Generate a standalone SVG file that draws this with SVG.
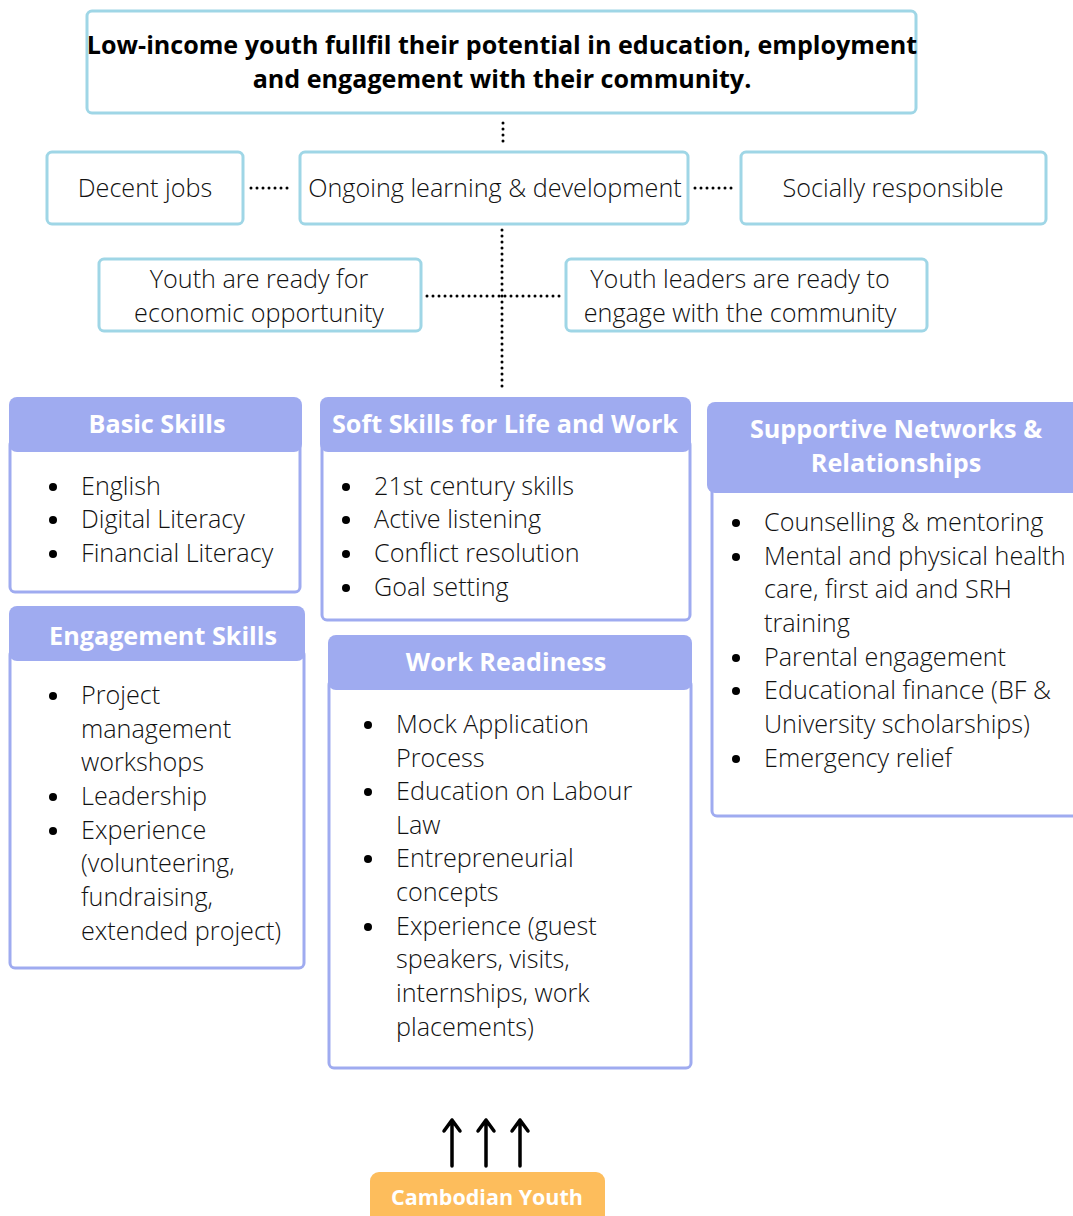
<svg xmlns="http://www.w3.org/2000/svg" width="1073" height="1216" viewBox="0 0 1073 1216">
<style>
.ob{fill:#fff;stroke:#9fd6e6;stroke-width:3}
.hd{fill:#9fabf0}
.bd{fill:#fff;stroke:#9fabf0;stroke-width:3}
.t{font-family:"Open Sans",sans-serif;font-weight:300;font-size:25.2px;fill:#111}
.tb{font-family:"Open Sans",sans-serif;font-weight:700;font-size:25.1px;fill:#000}
.th{font-family:"Open Sans",sans-serif;font-weight:700;font-size:25.2px;fill:#fff}
.dot{fill:none;stroke:#000;stroke-width:3;stroke-dasharray:0 6;stroke-linecap:round}
.arr{fill:none;stroke:#000;stroke-width:3.5;stroke-linecap:round;stroke-linejoin:round}
.b{fill:#000}
</style>
<rect width="1073" height="1216" fill="#fff"/>
<g id="connectors">
<line class="dot" x1="503" y1="123" x2="503" y2="147"/>
<line class="dot" x1="251" y1="188" x2="290" y2="188"/>
<line class="dot" x1="695" y1="188" x2="734" y2="188"/>
<line class="dot" x1="502" y1="230" x2="502" y2="390"/>
<line class="dot" x1="427" y1="296" x2="564" y2="296"/>
<path class="arr" d="M452 1166V1120M444 1131L452 1120L460 1131"/>
<path class="arr" d="M486 1166V1120M478 1131L486 1120L494 1131"/>
<path class="arr" d="M520 1166V1120M512 1131L520 1120L528 1131"/>
</g>
<g id="goal">
<rect class="ob" x="87" y="11" width="829" height="102" rx="5"/>
<text class="tb" x="502" y="54" text-anchor="middle">Low-income youth fullfil their potential in education, employment</text>
<text class="tb" x="502" y="88" text-anchor="middle">and engagement with their community.</text>
</g>
<g id="decent-jobs">
<rect class="ob" x="47" y="152" width="196" height="72" rx="5"/>
<text class="t" x="145" y="197" text-anchor="middle">Decent jobs</text>
</g>
<g id="ongoing-learning">
<rect class="ob" x="300" y="152" width="388" height="72" rx="5"/>
<text class="t" x="495" y="197" text-anchor="middle">Ongoing learning &amp; development</text>
</g>
<g id="socially-responsible">
<rect class="ob" x="741" y="152" width="305" height="72" rx="5"/>
<text class="t" x="893" y="197" text-anchor="middle">Socially responsible</text>
</g>
<g id="economic">
<rect class="ob" x="99" y="259" width="322" height="72" rx="5"/>
<text class="t" x="259" y="288" text-anchor="middle">Youth are ready for</text>
<text class="t" x="259" y="322" text-anchor="middle">economic opportunity</text>
</g>
<g id="leaders">
<rect class="ob" x="566" y="259" width="361" height="72" rx="5"/>
<text class="t" x="740" y="288" text-anchor="middle">Youth leaders are ready to</text>
<text class="t" x="740" y="322" text-anchor="middle">engage with the community</text>
</g>
<g id="basic-skills">
<rect class="bd" x="10" y="440" width="290" height="152" rx="5"/>
<rect class="hd" x="9" y="397" width="293" height="55" rx="8"/>
<text class="th" x="157" y="433" text-anchor="middle">Basic Skills</text>
<circle class="b" cx="53" cy="487" r="4"/><text class="t" x="81" y="495">English</text>
<circle class="b" cx="53" cy="520" r="4"/><text class="t" x="81" y="528">Digital Literacy</text>
<circle class="b" cx="53" cy="554" r="4"/><text class="t" x="81" y="562">Financial Literacy</text>
</g>
<g id="soft-skills">
<rect class="bd" x="322" y="440" width="368" height="180" rx="5"/>
<rect class="hd" x="320" y="397" width="371" height="55" rx="8"/>
<text class="th" x="505" y="433" text-anchor="middle">Soft Skills for Life and Work</text>
<circle class="b" cx="346" cy="487" r="4"/><text class="t" x="374" y="495">21st century skills</text>
<circle class="b" cx="346" cy="520" r="4"/><text class="t" x="374" y="528">Active listening</text>
<circle class="b" cx="346" cy="554" r="4"/><text class="t" x="374" y="562">Conflict resolution</text>
<circle class="b" cx="346" cy="588" r="4"/><text class="t" x="374" y="596">Goal setting</text>
</g>
<g id="supportive-networks">
<rect class="bd" x="712" y="480" width="370" height="336" rx="5"/>
<rect class="hd" x="707" y="402" width="375" height="91" rx="8"/>
<text class="th" x="896" y="438" text-anchor="middle">Supportive Networks &amp;</text>
<text class="th" x="896" y="472" text-anchor="middle">Relationships</text>
<circle class="b" cx="736" cy="523" r="4"/><text class="t" x="764" y="531">Counselling &amp; mentoring</text>
<circle class="b" cx="736" cy="557" r="4"/><text class="t" x="764" y="565">Mental and physical health</text>
<text class="t" x="764" y="598">care, first aid and SRH</text>
<text class="t" x="764" y="632">training</text>
<circle class="b" cx="736" cy="658" r="4"/><text class="t" x="764" y="666">Parental engagement</text>
<circle class="b" cx="736" cy="691" r="4"/><text class="t" x="764" y="699">Educational finance (BF &amp;</text>
<text class="t" x="764" y="733">University scholarships)</text>
<circle class="b" cx="736" cy="759" r="4"/><text class="t" x="764" y="767">Emergency relief</text>
</g>
<g id="engagement-skills">
<rect class="bd" x="10" y="650" width="294" height="318" rx="5"/>
<rect class="hd" x="9" y="606" width="296" height="55" rx="8"/>
<text class="th" x="163" y="645" text-anchor="middle">Engagement Skills</text>
<circle class="b" cx="53" cy="696" r="4"/><text class="t" x="81" y="704">Project</text>
<text class="t" x="81" y="738">management</text>
<text class="t" x="81" y="771">workshops</text>
<circle class="b" cx="53" cy="797" r="4"/><text class="t" x="81" y="805">Leadership</text>
<circle class="b" cx="53" cy="831" r="4"/><text class="t" x="81" y="839">Experience</text>
<text class="t" x="81" y="872">(volunteering,</text>
<text class="t" x="81" y="906">fundraising,</text>
<text class="t" x="81" y="940">extended project)</text>
</g>
<g id="work-readiness">
<rect class="bd" x="329" y="680" width="362" height="388" rx="5"/>
<rect class="hd" x="328" y="635" width="364" height="55" rx="8"/>
<text class="th" x="506" y="671" text-anchor="middle">Work Readiness</text>
<circle class="b" cx="368" cy="725" r="4"/><text class="t" x="396" y="733">Mock Application</text>
<text class="t" x="396" y="767">Process</text>
<circle class="b" cx="368" cy="792" r="4"/><text class="t" x="396" y="800">Education on Labour</text>
<text class="t" x="396" y="834">Law</text>
<circle class="b" cx="368" cy="859" r="4"/><text class="t" x="396" y="867">Entrepreneurial</text>
<text class="t" x="396" y="901">concepts</text>
<circle class="b" cx="368" cy="927" r="4"/><text class="t" x="396" y="935">Experience (guest</text>
<text class="t" x="396" y="968">speakers, visits,</text>
<text class="t" x="396" y="1002">internships, work</text>
<text class="t" x="396" y="1036">placements)</text>
</g>
<g id="cambodian-youth">
<rect x="370" y="1172" width="235" height="60" rx="9" fill="#fdbd5c"/>
<text class="th" x="487" y="1205" text-anchor="middle" style="font-size:21.5px">Cambodian Youth</text>
</g>
</svg>
